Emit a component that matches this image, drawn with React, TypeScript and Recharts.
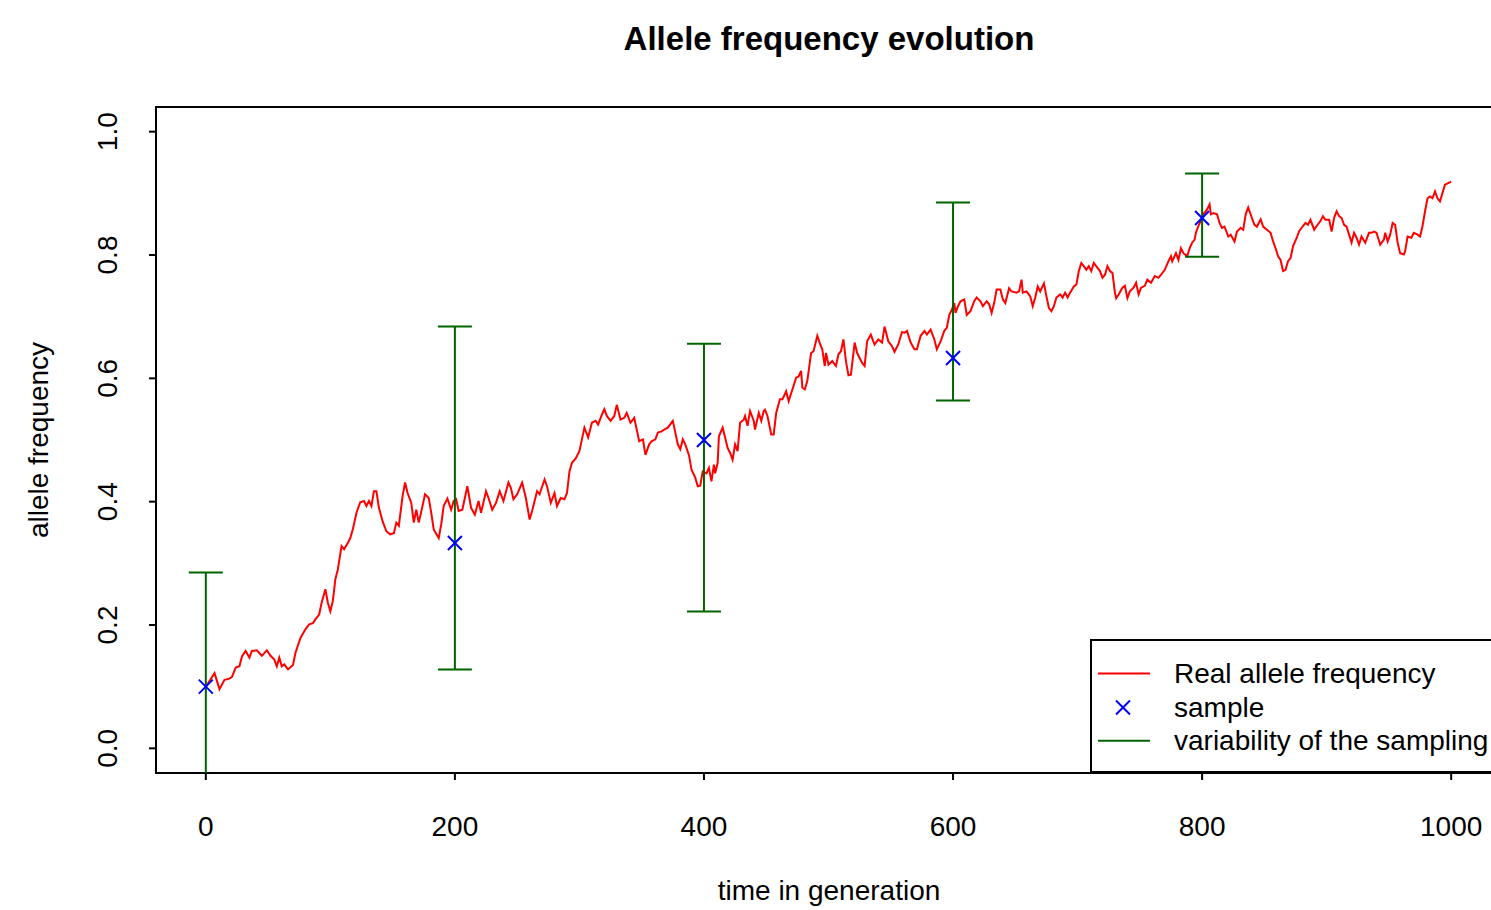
import {
  ComposedChart,
  Line,
  Scatter,
  ErrorBar,
  XAxis,
  YAxis,
  ReferenceArea,
  Legend,
} from "recharts";

const FONT = '"Liberation Sans", Arial, Helvetica, sans-serif';
const RED = "#ff0000";
const BLUE = "#0000ff";
const GREEN = "#006400";

const CHART_W = 1520;
const CHART_H = 910;
const MARGIN = { top: 107, right: 19, bottom: 77, left: 56 };
const Y_AXIS_W = 100;
const X_AXIS_H = 60;
const PLOT_X = MARGIN.left + Y_AXIS_W;
const PLOT_Y = MARGIN.top;
const PLOT_W = CHART_W - PLOT_X - MARGIN.right;
const PLOT_H = CHART_H - MARGIN.top - MARGIN.bottom - X_AXIS_H;

// real allele frequency (generation -> frequency)
const generations = [
  0, 7, 11, 15, 19, 21, 24, 27, 29, 32, 35, 37, 41, 45, 49, 52, 55, 57, 59, 61, 63, 66, 70, 72, 76, 80, 83, 86, 88, 91, 93, 96, 98,
  100, 102, 104, 106, 109, 111, 114, 116, 118, 121, 124, 127, 129, 131, 133, 135, 137, 139, 142, 145, 148, 151, 153, 155, 158, 160, 162, 165, 167, 169, 171, 174, 176, 179, 181, 183, 187, 189, 191, 194, 197, 199,
  201, 203, 206, 210, 213, 216, 219, 221, 225, 227, 230, 233, 236, 239, 243, 245, 247, 250, 254, 257, 260, 262, 266, 268, 272, 274, 277, 280, 282, 285, 288, 290, 292, 294, 297, 300,
  302, 304, 307, 310, 313, 315, 318, 320, 322, 325, 328, 330, 333, 336, 338, 341, 344, 346, 348, 351, 353, 356, 358, 361, 363, 366, 369, 371, 375, 377, 379, 381, 383, 385, 388, 390, 393, 395, 397,
  399, 402, 404, 406, 408, 409, 411, 412, 415, 417, 419, 421, 423, 425, 427, 429, 432, 433, 435, 437, 440, 441, 444, 446, 448, 449, 451, 454, 456, 458, 461, 463, 466, 468, 471, 474, 476, 478, 479, 481, 483, 486, 488, 491, 493, 495, 497, 498, 500,
  503, 506, 508, 510, 512, 514, 516, 518, 521, 523, 525, 527, 529, 531, 534, 536, 537, 540, 543, 545, 548, 551, 553, 556, 559, 561, 563, 566, 569, 571, 574, 577, 579, 582, 585, 587, 590, 593, 595, 597, 599, 601,
  602, 604, 606, 609, 611, 614, 617, 619, 622, 624, 627, 629, 631, 633, 635, 638, 640, 642, 645, 647, 651, 653, 655, 656, 659, 662, 664, 666, 668, 670, 673, 675, 677, 679, 681, 683, 686, 688, 690, 692, 694, 697, 699, 701, 703,
  705, 707, 709, 711, 713, 716, 718, 720, 722, 724, 726, 728, 730, 731, 733, 736, 738, 740, 742, 745, 747, 749, 751, 754, 756, 759, 762, 765, 767, 770, 773, 775, 776, 779, 781, 783, 785, 788, 790, 792, 794, 795, 797, 800,
  801, 804, 806, 807, 809, 812, 814, 816, 818, 821, 823, 826, 828, 831, 833, 835, 837, 840, 842, 844, 847, 849, 852, 855, 857, 859, 861, 863, 865, 867, 869, 871, 873, 876, 878, 881, 883, 885, 887, 890, 892, 895, 897, 899,
  902, 904, 906, 908, 910, 912, 914, 916, 918, 920, 922, 924, 926, 928, 931, 934, 936, 938, 940, 943, 946, 947, 949, 951, 953, 955, 957, 959, 962, 963, 965, 968, 970, 973, 975, 977, 979, 981, 983, 985, 987, 989, 991, 995, 998, 1000,
];

const realFrequency = [
  0.100, 0.122, 0.096, 0.111, 0.113, 0.116, 0.131, 0.133, 0.149, 0.158, 0.147, 0.158, 0.159, 0.150, 0.159, 0.150, 0.144, 0.133, 0.147, 0.133, 0.136, 0.128, 0.135, 0.155, 0.179, 0.193, 0.201, 0.203, 0.209, 0.217, 0.236, 0.258, 0.236,
  0.222, 0.239, 0.274, 0.290, 0.328, 0.323, 0.333, 0.341, 0.355, 0.382, 0.399, 0.401, 0.393, 0.401, 0.393, 0.417, 0.417, 0.390, 0.368, 0.352, 0.347, 0.349, 0.366, 0.361, 0.409, 0.431, 0.414, 0.398, 0.366, 0.387, 0.366, 0.393, 0.412, 0.406, 0.382, 0.355, 0.341, 0.363, 0.393, 0.405, 0.387, 0.401,
  0.404, 0.385, 0.387, 0.425, 0.390, 0.379, 0.401, 0.382, 0.417, 0.406, 0.387, 0.398, 0.417, 0.401, 0.431, 0.422, 0.404, 0.412, 0.431, 0.406, 0.371, 0.385, 0.417, 0.412, 0.436, 0.425, 0.398, 0.414, 0.393, 0.406, 0.404, 0.414, 0.449, 0.463, 0.470, 0.482,
  0.501, 0.520, 0.504, 0.528, 0.531, 0.525, 0.541, 0.550, 0.539, 0.531, 0.539, 0.557, 0.533, 0.536, 0.544, 0.528, 0.536, 0.517, 0.498, 0.501, 0.476, 0.493, 0.498, 0.501, 0.512, 0.514, 0.518, 0.520, 0.531, 0.512, 0.493, 0.485, 0.501, 0.493, 0.475, 0.452, 0.439, 0.425, 0.426,
  0.449, 0.446, 0.455, 0.433, 0.460, 0.446, 0.463, 0.506, 0.520, 0.504, 0.487, 0.479, 0.468, 0.493, 0.482, 0.528, 0.533, 0.539, 0.523, 0.547, 0.531, 0.517, 0.544, 0.531, 0.547, 0.549, 0.539, 0.509, 0.509, 0.544, 0.566, 0.566, 0.579, 0.563, 0.582, 0.601, 0.603, 0.612, 0.585, 0.582, 0.596, 0.641, 0.644, 0.669, 0.657, 0.647, 0.620, 0.641, 0.622,
  0.628, 0.620, 0.639, 0.644, 0.663, 0.628, 0.605, 0.606, 0.658, 0.641, 0.633, 0.625, 0.620, 0.660, 0.671, 0.660, 0.655, 0.663, 0.658, 0.684, 0.660, 0.652, 0.643, 0.655, 0.675, 0.674, 0.677, 0.658, 0.647, 0.647, 0.669, 0.677, 0.671, 0.679, 0.663, 0.647, 0.660, 0.677, 0.682, 0.703, 0.711, 0.722,
  0.706, 0.717, 0.725, 0.728, 0.703, 0.709, 0.725, 0.731, 0.725, 0.717, 0.725, 0.720, 0.706, 0.722, 0.744, 0.744, 0.728, 0.722, 0.746, 0.741, 0.739, 0.741, 0.760, 0.739, 0.741, 0.733, 0.717, 0.731, 0.749, 0.741, 0.754, 0.733, 0.714, 0.709, 0.717, 0.731, 0.736, 0.731, 0.739, 0.731, 0.739, 0.749, 0.752, 0.774, 0.787,
  0.782, 0.776, 0.782, 0.774, 0.787, 0.779, 0.774, 0.763, 0.768, 0.782, 0.774, 0.771, 0.739, 0.730, 0.736, 0.747, 0.750, 0.730, 0.741, 0.747, 0.755, 0.736, 0.747, 0.750, 0.760, 0.755, 0.766, 0.763, 0.768, 0.776, 0.790, 0.798, 0.790, 0.803, 0.792, 0.811, 0.803, 0.798, 0.811, 0.820, 0.825, 0.836, 0.847, 0.860,
  0.866, 0.874, 0.882, 0.866, 0.868, 0.866, 0.852, 0.844, 0.846, 0.830, 0.833, 0.822, 0.838, 0.844, 0.841, 0.866, 0.877, 0.860, 0.849, 0.846, 0.858, 0.846, 0.841, 0.836, 0.822, 0.811, 0.798, 0.792, 0.774, 0.776, 0.790, 0.795, 0.814, 0.828, 0.839, 0.847, 0.852, 0.849, 0.857, 0.841, 0.847, 0.855, 0.863, 0.857,
  0.857, 0.838, 0.860, 0.871, 0.863, 0.860, 0.849, 0.846, 0.833, 0.820, 0.836, 0.828, 0.817, 0.830, 0.820, 0.836, 0.836, 0.838, 0.836, 0.817, 0.825, 0.836, 0.822, 0.833, 0.852, 0.849, 0.820, 0.803, 0.801, 0.806, 0.830, 0.828, 0.836, 0.833, 0.830, 0.847, 0.871, 0.892, 0.895, 0.892, 0.903, 0.892, 0.887, 0.914, 0.917, 0.919,
];

// samples and their interval
const sampleGenerations = [0, 200, 400, 600, 800];
const sampleFrequency = [0.1, 0.333, 0.5, 0.633, 0.86];
const sampleLower = [-0.06, 0.128, 0.222, 0.564, 0.797];
const sampleUpper = [0.285, 0.684, 0.656, 0.885, 0.932];

const xTicks = [0, 200, 400, 600, 800, 1000];
const yTicks = [0, 0.2, 0.4, 0.6, 0.8, 1.0];
const legendLabels = ["Real allele frequency", "sample", "variability of the sampling"];

const lineData = generations.map((gen, i) => ({ gen, freq: realFrequency[i] }));
const sampleData = sampleGenerations.map((gen, i) => ({
  gen,
  sample: sampleFrequency[i],
  err: [sampleFrequency[i] - sampleLower[i], sampleUpper[i] - sampleFrequency[i]],
}));

function Cross(props: any) {
  const { cx, cy } = props;
  const s = 7;
  return (
    <g stroke={BLUE} strokeWidth={2}>
      <line x1={cx - s} y1={cy - s} x2={cx + s} y2={cy + s} />
      <line x1={cx - s} y1={cy + s} x2={cx + s} y2={cy - s} />
    </g>
  );
}

function YTick(props: any) {
  const { x, y, payload } = props;
  return (
    <text
      x={x}
      y={y}
      transform={`rotate(-90 ${x} ${y})`}
      textAnchor="middle"
      fontSize={28}
      fontFamily={FONT}
      fill="#000"
    >
      {Number(payload.value).toFixed(1)}
    </text>
  );
}

function LegendBox() {
  const rows = [34.5, 68.5, 101.7];
  return (
    <svg width={440} height={134} style={{ display: "block" }}>
      <rect x={1} y={1} width={450} height={132} fill="#fff" stroke="#000" strokeWidth={2} />
      <line x1={8} x2={60} y1={rows[0]} y2={rows[0]} stroke={RED} strokeWidth={2} />
      <Cross cx={33} cy={rows[1]} />
      <line x1={8} x2={60} y1={rows[2]} y2={rows[2]} stroke={GREEN} strokeWidth={2} />
      {legendLabels.map((label, i) => (
        <text key={label} x={84} y={rows[i] + 9} fontSize={28} fontFamily={FONT} fill="#000">
          {label}
        </text>
      ))}
    </svg>
  );
}

export default function App() {
  return (
    <div
      style={{
        position: "absolute",
        left: 0,
        top: 0,
        width: 1491,
        height: 910,
        overflow: "hidden",
        background: "#fff",
      }}
    >
      <ComposedChart width={CHART_W} height={CHART_H} margin={MARGIN}>
        <defs>
          <clipPath id="plot-clip">
            <rect x={PLOT_X} y={PLOT_Y} width={PLOT_W} height={PLOT_H} />
          </clipPath>
        </defs>
        <style>{`.recharts-errorBar, .recharts-errorBars { clip-path: url(#plot-clip); }`}</style>
        <XAxis
          dataKey="gen"
          type="number"
          domain={[-40, 1040]}
          allowDataOverflow
          ticks={xTicks}
          interval={0}
          height={X_AXIS_H}
          tickSize={7}
          tickMargin={36}
          axisLine={false}
          tickLine={{ stroke: "#000", strokeWidth: 2 }}
          tick={{ fill: "#000", fontSize: 28, fontFamily: FONT }}
        />
        <YAxis
          type="number"
          domain={[-0.04, 1.04]}
          allowDataOverflow
          ticks={yTicks}
          interval={0}
          width={Y_AXIS_W}
          tickSize={7}
          tickMargin={32}
          axisLine={false}
          tickLine={{ stroke: "#000", strokeWidth: 2 }}
          tick={<YTick />}
        />
        <ReferenceArea
          x1={-40}
          x2={1040}
          y1={-0.04}
          y2={1.04}
          fill="none"
          stroke="#000"
          strokeWidth={2}
          ifOverflow="visible"
        />
        <Line
          data={lineData}
          dataKey="freq"
          type="linear"
          stroke={RED}
          strokeWidth={2}
          dot={false}
          isAnimationActive={false}
        />
        <g clipPath="url(#plot-clip)">
          <Scatter data={sampleData} dataKey="sample" shape={<Cross />} isAnimationActive={false}>
            <ErrorBar dataKey="err" direction="y" width={17} stroke={GREEN} strokeWidth={2} />
          </Scatter>
        </g>
        <Legend
          layout="vertical"
          align="center"
          verticalAlign="middle"
          wrapperStyle={{ left: 1090, top: 639, width: 440, height: 134 }}
          content={() => <LegendBox />}
        />
        <text x={829} y={50} textAnchor="middle" fontSize={33} fontWeight="bold" fontFamily={FONT} fill="#000">
          Allele frequency evolution
        </text>
        <text x={829} y={900} textAnchor="middle" fontSize={28} fontFamily={FONT} fill="#000">
          time in generation
        </text>
        <text
          x={48}
          y={440}
          transform="rotate(-90 48 440)"
          textAnchor="middle"
          fontSize={28}
          fontFamily={FONT}
          fill="#000"
        >
          allele frequency
        </text>
      </ComposedChart>
    </div>
  );
}
